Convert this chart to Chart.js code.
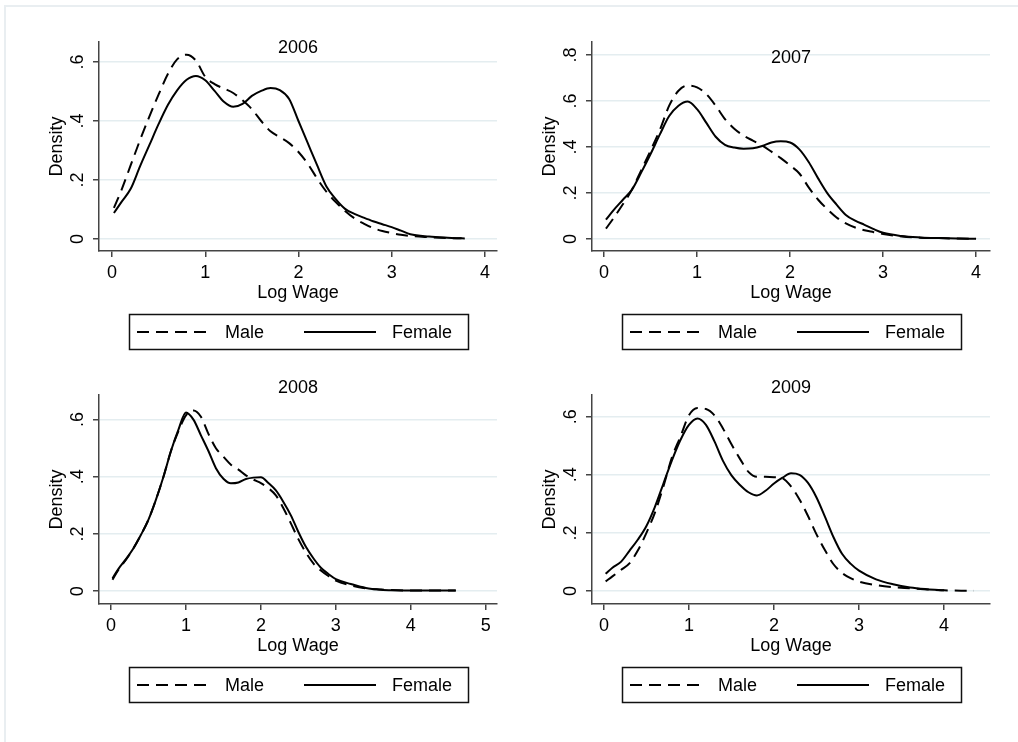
<!DOCTYPE html>
<html>
<head>
<meta charset="utf-8">
<script src="https://cdn.jsdelivr.net/npm/chart.js@4.4.1/dist/chart.umd.min.js"></script>
<style>
  body { margin: 0; background: #fff; width: 1018px; height: 742px; overflow: hidden; position: relative; }
  canvas { position: absolute; }
  #frame { position: absolute; left: 4px; top: 5px; width: 1020px; height: 745px;
           border-left: 2px solid #e9eef1; border-top: 2px solid #e9eef1; }
</style>
</head>
<body>
<div id="frame"></div>
<canvas id="c06" width="505" height="360" style="left:0px;top:0px"></canvas>
<canvas id="c07" width="505" height="360" style="left:493px;top:0px"></canvas>
<canvas id="c08" width="505" height="360" style="left:0px;top:353px"></canvas>
<canvas id="c09" width="505" height="360" style="left:493px;top:353px"></canvas>
<script>
// series labels
const seriesNames = ["Male", "Female"];
const xTitle = "Log Wage";
const yTitle = "Density";

// 2006
const wage06 = [0.02, 0.1, 0.2, 0.3, 0.4, 0.5, 0.6, 0.7, 0.8, 0.9, 1.0, 1.1, 1.2, 1.3, 1.4, 1.5, 1.6, 1.7, 1.8, 1.9, 2.0, 2.1, 2.2, 2.3, 2.4, 2.5, 2.6, 2.7, 2.8, 2.9, 3.0, 3.1, 3.2, 3.4, 3.6, 3.75, 3.85];
const male06 = [0.105, 0.165, 0.25, 0.335, 0.415, 0.49, 0.56, 0.61, 0.625, 0.605, 0.55, 0.525, 0.51, 0.495, 0.47, 0.44, 0.40, 0.365, 0.345, 0.325, 0.295, 0.255, 0.205, 0.16, 0.125, 0.095, 0.07, 0.052, 0.037, 0.027, 0.02, 0.014, 0.01, 0.006, 0.003, 0.002, 0.001];
const female06 = [0.088, 0.125, 0.17, 0.246, 0.318, 0.39, 0.455, 0.505, 0.54, 0.553, 0.538, 0.502, 0.465, 0.448, 0.458, 0.485, 0.502, 0.512, 0.505, 0.475, 0.40, 0.325, 0.25, 0.178, 0.135, 0.102, 0.085, 0.072, 0.06, 0.05, 0.04, 0.028, 0.016, 0.008, 0.004, 0.002, null];

// 2007
const wage07 = [0.02, 0.1, 0.2, 0.3, 0.4, 0.5, 0.6, 0.7, 0.8, 0.9, 1.0, 1.1, 1.2, 1.3, 1.4, 1.5, 1.6, 1.7, 1.8, 1.9, 2.0, 2.1, 2.2, 2.3, 2.4, 2.5, 2.6, 2.7, 2.8, 2.9, 3.0, 3.2, 3.4, 3.6, 3.8, 4.0];
const male07 = [0.045, 0.09, 0.15, 0.215, 0.30, 0.385, 0.475, 0.58, 0.645, 0.668, 0.66, 0.63, 0.58, 0.522, 0.48, 0.45, 0.428, 0.407, 0.38, 0.352, 0.32, 0.285, 0.225, 0.172, 0.13, 0.094, 0.068, 0.05, 0.038, 0.03, 0.022, 0.011, 0.006, 0.004, 0.002, 0.001];
const female07 = [0.084, 0.125, 0.17, 0.215, 0.29, 0.37, 0.455, 0.535, 0.58, 0.598, 0.565, 0.505, 0.445, 0.41, 0.398, 0.393, 0.395, 0.405, 0.42, 0.425, 0.42, 0.39, 0.335, 0.265, 0.20, 0.15, 0.105, 0.08, 0.062, 0.043, 0.027, 0.013, 0.007, 0.004, 0.002, 0.001];

// 2008
const wage08 = [0.02, 0.1, 0.2, 0.3, 0.4, 0.5, 0.6, 0.7, 0.8, 0.9, 1.0, 1.1, 1.2, 1.3, 1.4, 1.5, 1.6, 1.7, 1.8, 1.9, 2.0, 2.1, 2.2, 2.3, 2.4, 2.5, 2.6, 2.7, 2.8, 2.9, 3.0, 3.2, 3.4, 3.6, 3.8, 4.0, 4.2, 4.4, 4.6];
const male08 = [0.04, 0.075, 0.11, 0.15, 0.197, 0.25, 0.32, 0.40, 0.49, 0.56, 0.615, 0.632, 0.61, 0.55, 0.50, 0.47, 0.442, 0.425, 0.405, 0.39, 0.378, 0.36, 0.335, 0.29, 0.237, 0.182, 0.135, 0.097, 0.072, 0.053, 0.037, 0.02, 0.01, 0.006, 0.003, 0.002, 0.002, 0.002, 0.002];
const female08 = [0.045, 0.078, 0.112, 0.15, 0.197, 0.25, 0.32, 0.40, 0.49, 0.565, 0.625, 0.60, 0.545, 0.49, 0.43, 0.393, 0.377, 0.38, 0.392, 0.397, 0.398, 0.378, 0.352, 0.312, 0.265, 0.207, 0.155, 0.115, 0.082, 0.06, 0.042, 0.025, 0.011, 0.005, 0.003, 0.002, 0.002, 0.002, 0.002];

// 2009
const wage09 = [0.02, 0.1, 0.2, 0.3, 0.4, 0.5, 0.6, 0.7, 0.8, 0.9, 1.0, 1.1, 1.2, 1.3, 1.4, 1.5, 1.6, 1.7, 1.8, 1.9, 2.0, 2.1, 2.2, 2.3, 2.4, 2.5, 2.6, 2.7, 2.8, 2.9, 3.0, 3.2, 3.4, 3.6, 3.8, 4.0, 4.2, 4.35];
const male09 = [0.033, 0.05, 0.072, 0.095, 0.14, 0.20, 0.27, 0.36, 0.46, 0.532, 0.605, 0.63, 0.627, 0.605, 0.56, 0.505, 0.455, 0.41, 0.393, 0.393, 0.392, 0.388, 0.36, 0.315, 0.258, 0.195, 0.14, 0.092, 0.062, 0.044, 0.032, 0.02, 0.013, 0.009, 0.005, 0.002, 0.001, 0.001];
const female09 = [0.059, 0.08, 0.10, 0.138, 0.177, 0.224, 0.29, 0.37, 0.45, 0.52, 0.572, 0.594, 0.572, 0.515, 0.448, 0.398, 0.365, 0.34, 0.329, 0.345, 0.37, 0.39, 0.405, 0.40, 0.372, 0.322, 0.255, 0.185, 0.128, 0.094, 0.07, 0.04, 0.023, 0.012, 0.006, 0.002, null, null];

// tick labels
const xTicks4 = [0, 1, 2, 3, 4];
const xTicks5 = [0, 1, 2, 3, 4, 5];
const yTicks6 = [0, 0.2, 0.4, 0.6];
const yTicks8 = [0, 0.2, 0.4, 0.6, 0.8];

Chart.defaults.font.family = '"Liberation Sans", Arial, sans-serif';
Chart.defaults.font.size = 18;
Chart.defaults.color = "#000";

const FONT = '18px "Liberation Sans", Arial, sans-serif';
const fmtY = v => v === 0 ? "0" : String(Math.round(v * 10) / 10).replace(/^0/, "");

// draws Stata-like extras: title, axis titles, rotated y labels, boxed legend
const stataDecor = {
  id: "stataDecor",
  afterDraw(chart, args, opts) {
    const { ctx, chartArea, scales } = chart;
    const mid = (chartArea.left + chartArea.right) / 2;
    ctx.save();
    ctx.fillStyle = "#000";
    ctx.font = FONT;
    ctx.textAlign = "center";
    ctx.textBaseline = "middle";
    ctx.fillText(opts.title, mid, opts.titleY);
    ctx.fillText(xTitle, mid, 293);

    // y tick labels, rotated like Stata
    scales.y.ticks.forEach(t => {
      ctx.save();
      ctx.translate(77, scales.y.getPixelForValue(t.value));
      ctx.rotate(-Math.PI / 2);
      ctx.fillText(fmtY(t.value), 0, 1);
      ctx.restore();
    });
    ctx.save();
    ctx.translate(57, (chartArea.top + chartArea.bottom) / 2);
    ctx.rotate(-Math.PI / 2);
    ctx.fillText(yTitle, 0, 0);
    ctx.restore();

    // legend box
    ctx.strokeStyle = "#111";
    ctx.lineWidth = 1.5;
    ctx.strokeRect(129.5, 314.5, 339, 35);
    const ly = 332;
    const items = [[137, 209, 225], [304, 376, 392]];
    chart.data.datasets.forEach((ds, i) => {
      const [a, b, tx] = items[i];
      ctx.beginPath();
      ctx.setLineDash(ds.borderDash || []);
      ctx.lineWidth = ds.borderWidth;
      ctx.strokeStyle = ds.borderColor;
      ctx.moveTo(a, ly);
      ctx.lineTo(b, ly);
      ctx.stroke();
      ctx.setLineDash([]);
      ctx.textAlign = "left";
      ctx.fillText(ds.label, tx, ly + 1);
    });
    ctx.restore();
  }
};

function makePanel(id, wage, male, female, xTicks, yTicks, title, titleY, xr, yr) {
  const pts = ys => wage.map((x, i) => ({ x: x, y: ys[i] }));
  return new Chart(document.getElementById(id), {
    type: "line",
    plugins: [stataDecor],
    data: {
      datasets: [
        { label: seriesNames[0], data: pts(male), borderColor: "#000", borderWidth: 2,
          borderDash: [12, 7], pointRadius: 0, tension: 0.4, cubicInterpolationMode: "monotone" },
        { label: seriesNames[1], data: pts(female), borderColor: "#000", borderWidth: 2,
          pointRadius: 0, tension: 0.4, cubicInterpolationMode: "monotone" }
      ]
    },
    options: {
      responsive: false,
      animation: false,
      devicePixelRatio: 1,
      layout: { padding: { top: 42, right: 8, left: 0, bottom: 0 } },
      plugins: {
        legend: { display: false },
        tooltip: { enabled: false },
        stataDecor: { title: title, titleY: titleY }
      },
      scales: {
        x: {
          type: "linear", min: xr[0], max: xr[1],
          afterBuildTicks: s => { s.ticks = xTicks.map(v => ({ value: v })); },
          afterFit: s => { s.height = 109; },
          ticks: { padding: 5, color: "#000", font: { size: 18 } },
          grid: { drawOnChartArea: false, tickLength: 6, color: "#444", lineWidth: 1.5 },
          border: { color: "#444", width: 1.5 }
        },
        y: {
          type: "linear", min: yr[0], max: yr[1],
          afterBuildTicks: s => { s.ticks = yTicks.map(v => ({ value: v })); },
          afterFit: s => { s.width = 99; },
          ticks: { display: false },
          grid: { color: "#e4edf0", lineWidth: 1.5, tickColor: "#444", tickWidth: 1.5, tickLength: 6 },
          border: { color: "#444", width: 1.5 }
        }
      }
    }
  });
}

makePanel("c06", wage06, male06, female06, xTicks4, yTicks6, "2006", 48, [-0.14, 4.13], [-0.041, 0.668]);
makePanel("c07", wage07, male07, female07, xTicks4, yTicks8, "2007", 58, [-0.13, 4.15], [-0.052, 0.857]);
makePanel("c08", wage08, male08, female08, xTicks5, yTicks6, "2008", 35, [-0.16, 5.15], [-0.045, 0.686]);
makePanel("c09", wage09, male09, female09, xTicks4, yTicks6, "2009", 35, [-0.14, 4.54], [-0.045, 0.675]);
</script>
</body>
</html>
